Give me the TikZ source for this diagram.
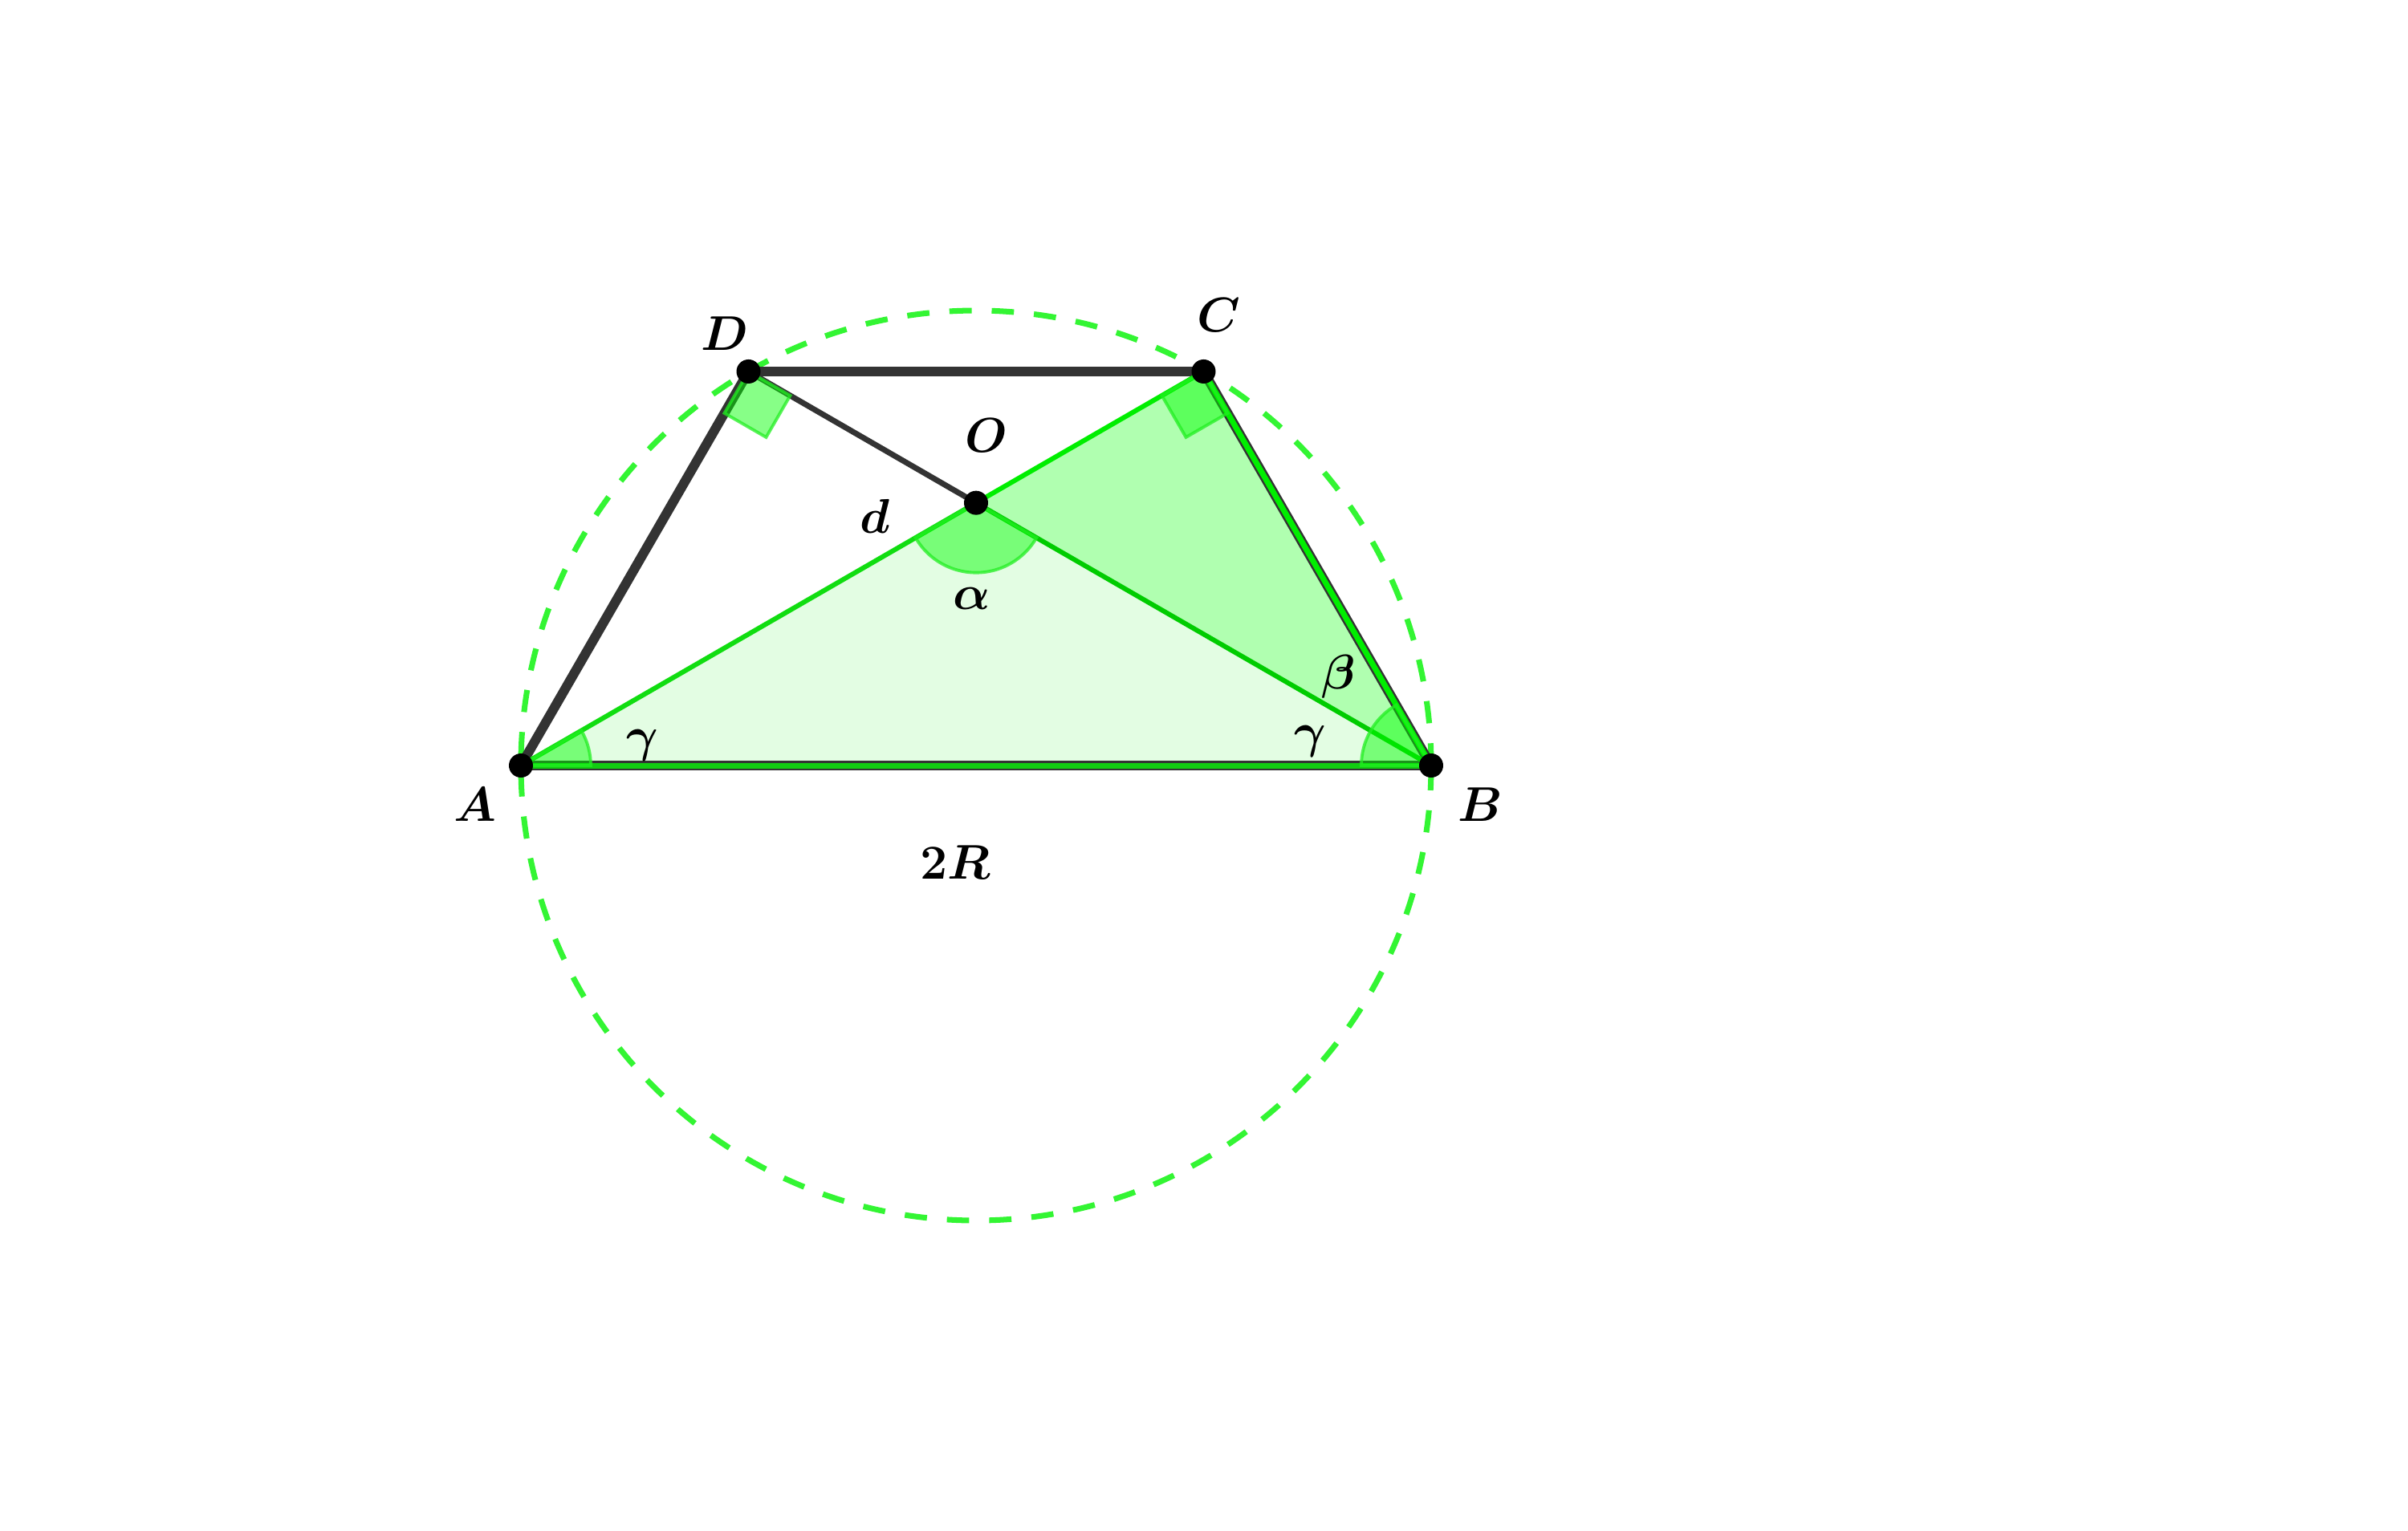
\documentclass[tikz,border=0pt]{standalone}
\usepackage{bm}
\definecolor{darkline}{HTML}{333333}
\definecolor{lightfill}{HTML}{E3FDE3}
\definecolor{midfill}{HTML}{B0FFB0}
\definecolor{gA}{HTML}{11DD11}
\definecolor{gC}{HTML}{00EE00}
\definecolor{gB}{HTML}{00CC00}
\definecolor{gAB}{HTML}{11CC11}
\definecolor{circ}{HTML}{33F533}
\definecolor{angfill}{HTML}{00FF00}
\definecolor{angdraw}{HTML}{22EE22}
\tikzset{
  blackedge/.style={draw=darkline,line width=3.4pt},
  thinedge/.style={draw=darkline,line width=2pt},
  greenedge/.style={line width=1.7pt},
  overedge/.style={line width=2pt},
  anglemark/.style={fill=angfill,fill opacity=0.47,draw=angdraw,draw opacity=0.75,line width=1.1pt},
  lab/.style={font=\fontsize{16}{19}\selectfont,inner sep=0pt},
}
\begin{document}
\begin{tikzpicture}
\useasboundingbox (-12.16,-9.53) rectangle (17.84,9.54);
\coordinate (Z) at (0,0);
\coordinate (A) at (180:5.67);
\coordinate (B) at (0:5.67);
\coordinate (C) at (60:5.67);
\coordinate (D) at (120:5.67);
\coordinate (O) at (0,3.2736);
% fills
\fill[lightfill] (A) -- (O) -- (B) -- cycle;
\fill[midfill] (O) -- (C) -- (B) -- cycle;
% circle
\draw[circ,line width=2pt,dash pattern=on 7.9pt off 7.1pt] (Z) circle (5.67);
% quadrilateral
\draw[blackedge] (A) -- (D);
\draw[blackedge] (D) -- (C);
\draw[blackedge] (C) -- (B);
\draw[blackedge] (A) -- (B);
\draw[thinedge] (D) -- (O);
% green segments
\draw[overedge,draw=gAB] (A) -- (B);
\draw[overedge,draw=gC] (C) -- (B);
\draw[greenedge,draw=gA] (A) -- (O);
\draw[greenedge,draw=gC] (O) -- (C);
\draw[greenedge,draw=gB] (O) -- (B);
% angle marks
\path[anglemark] (A) -- ++(0:0.87) arc (0:30:0.87) -- cycle;
\path[anglemark] (B) -- ++(180:0.87) arc (180:120:0.87) -- cycle;
\path[anglemark] (O) -- ++(210:0.87) arc (210:330:0.87) -- cycle;
\path[anglemark] (D) -- ++(240:0.6) -- ++(330:0.6) -- ++(60:0.6) -- cycle;
\path[anglemark] (C) -- ++(210:0.6) -- ++(300:0.6) -- ++(30:0.6) -- cycle;
% points
\foreach \p in {A,B,C,D,O} \fill[black] (\p) circle (0.15);
% labels
\node[lab] (lA) at (-6.24,-0.49) {$\bm{A}$};
\node[lab] (lB) at (6.28,-0.49) {$\bm{B}$};
\node[lab] (lC) at (3.02,5.61) {$\bm{C}$};
\node[lab] (lD) at (-3.13,5.38) {$\bm{D}$};
\node[lab] (lO) at (0.13,4.11) {$\bm{O}$};
\node[lab] (ld) at (-1.26,3.11) {$\bm{d}$};
\node[lab] (lal) at (-0.05,2.08) {$\bm{\alpha}$};
\node[lab] (lbe) at (4.52,1.11) {$\bm{\beta}$};
\node[lab] (lgB) at (4.16,0.30) {$\bm{\gamma}$};
\node[lab] (lgA) at (-4.16,0.25) {$\bm{\gamma}$};
\node[lab] (l2R) at (-0.26,-1.21) {$\bm{2R}$};
\end{tikzpicture}
\end{document}
